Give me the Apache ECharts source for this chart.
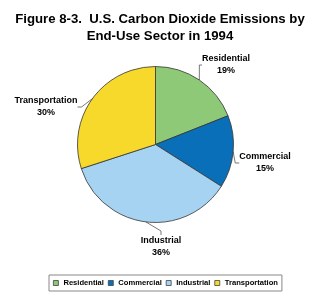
<!DOCTYPE html>
<html><head><meta charset="utf-8">
<script src="https://cdn.jsdelivr.net/npm/echarts@6/dist/echarts.min.js"></script>
<style>html,body{margin:0;padding:0;background:#fff}#c{width:320px;height:298px}</style>
</head><body><div id="c"></div>
<script>
var categories = ['Residential', 'Commercial', 'Industrial', 'Transportation'];
var values = [19, 15, 36, 30];
var colors = ['#8dc977', '#0a6fb9', '#a6d3f2', '#f6d92b'];
var labelPos = [[226, 65], [265, 163], [161, 247], [46, 107]];

var chart = echarts.init(document.getElementById('c'), null, {renderer: 'canvas'});
var font = 'Liberation Sans, Arial, sans-serif';
chart.setOption({
  animation: false,
  title: {
    text: 'Figure 8-3.  U.S. Carbon Dioxide Emissions by\nEnd-Use Sector in 1994',
    left: 'center', top: 6,
    textStyle: {fontFamily: font, fontWeight: 'bold', fontSize: 13.2, lineHeight: 17, color: '#000'}
  },
  legend: {
    data: categories,
    bottom: 7, left: 49,
    itemWidth: 5, itemHeight: 5, itemGap: 4,
    icon: 'rect',
    borderColor: '#888', borderWidth: 1, borderRadius: 0,
    padding: [4, 4, 4, 4],
    itemStyle: {borderColor: '#444', borderWidth: 0.8},
    textStyle: {fontFamily: font, fontWeight: 'bold', fontSize: 7.6, color: '#000'}
  },
  series: [{
    type: 'pie',
    center: [155.5, 144.5],
    radius: 78,
    startAngle: 90,
    clockwise: true,
    data: categories.map(function (c, i) {
      return {name: c, value: values[i], itemStyle: {color: colors[i]}};
    }),
    itemStyle: {borderColor: '#333', borderWidth: 0.8},
    label: {
      show: true,
      formatter: function (p) { return p.name + '\n' + p.value + '%'; },
      fontFamily: font, fontWeight: 'bold', fontSize: 9, lineHeight: 12, color: '#000'
    },
    labelLine: {show: true, length: 6, length2: 4, lineStyle: {color: '#555', width: 0.8}},
    labelLayout: function (p) {
      var pos = labelPos[p.dataIndex];
      return {x: pos[0], y: pos[1], align: 'center', verticalAlign: 'middle'};
    }
  }]
});
</script></body></html>
